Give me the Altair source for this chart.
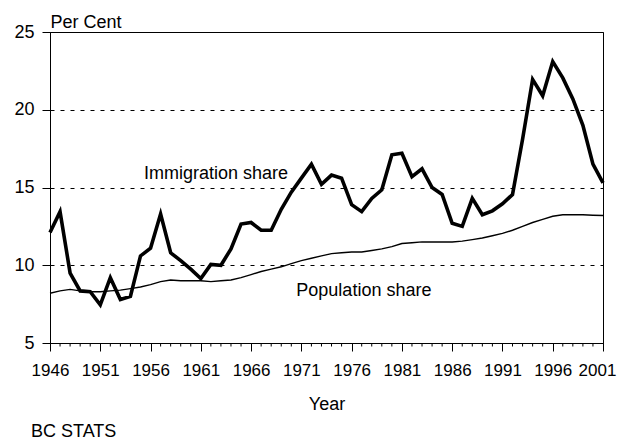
import altair as alt
import pandas as pd

years = list(range(1946, 2002))
immigration = [12.1, 13.45, 9.5, 8.35, 8.3, 7.45, 9.2, 7.8, 8.0, 10.6,
               11.1, 13.3, 10.8, 10.3, 9.75, 9.15, 10.05, 10.0, 11.05, 12.65,
               12.75, 12.25, 12.25, 13.6, 14.7, 15.6, 16.5, 15.2, 15.8, 15.6,
               13.9, 13.45, 14.3, 14.85, 17.1, 17.2, 15.7, 16.2, 15.0, 14.55,
               12.7, 12.5, 14.3, 13.25, 13.5, 13.95, 14.55, 18.1, 21.95, 20.9,
               23.1, 22.05, 20.7, 19.0, 16.5, 15.3]
population = [8.2, 8.35, 8.45, 8.35, 8.3, 8.3, 8.35, 8.4, 8.5, 8.6,
              8.75, 8.95, 9.05, 9.0, 9.0, 9.0, 8.95, 9.0, 9.05, 9.2,
              9.4, 9.6, 9.75, 9.9, 10.1, 10.3, 10.45, 10.6, 10.75, 10.8,
              10.85, 10.85, 10.95, 11.05, 11.2, 11.4, 11.45, 11.5, 11.5, 11.5,
              11.5, 11.55, 11.65, 11.75, 11.9, 12.05, 12.25, 12.5, 12.75, 12.95,
              13.15, 13.25, 13.25, 13.25, 13.22, 13.2]
major_years = [1946, 1951, 1956, 1961, 1966, 1971, 1976, 1981, 1986, 1991, 1996, 2001]
y_ticks = [5, 10, 15, 20, 25]

label_text = ["Immigration share", "Population share"]
label_year = [1955.35, 1970.5]
label_value = [15.56, 8.0]

FONT = "Liberation Sans"
FS = 18

df = pd.DataFrame({"Year": years, "Immigration": immigration, "Population": population})
labels = pd.DataFrame({"text": label_text, "Year": label_year, "v": label_value})
minor = pd.DataFrame({"Year": [y for y in years if y not in major_years]})

x_scale = alt.Scale(domain=[1946, 2001], nice=False, zero=False)
y_scale = alt.Scale(domain=[5, 25], nice=False, zero=False)

x_axis = alt.Axis(
    values=major_years, format="d", tickSize=8, labelFontSize=17,
    labelPadding=11, labelFlush=False, labelOverlap=False,
    labelOffset={"condition": {"test": "datum.value == 2001", "value": -6}, "value": 0},
    grid=False, title="Year", titlePadding=17,
    domainColor="black", tickColor="black",
)
y_axis = alt.Axis(
    values=y_ticks, tickSize=8, labelPadding=8,
    grid=True, gridDash=[4, 6], gridColor="black", gridWidth=1,
    domainColor="black", tickColor="black",
    title="Per Cent", titleAngle=0, titleAlign="left", titleBaseline="alphabetic",
    titleX=0, titleY=-4.5,
)

H = 311
base = alt.Chart(df)
ticks = alt.Chart(minor).mark_rule(color="black", strokeWidth=1).encode(
    x=alt.X("Year:Q", scale=x_scale),
    y=alt.value(H), y2=alt.value(H + 3.5),
)
imm = base.mark_line(color="black", strokeWidth=3.6, strokeJoin="miter").encode(
    x=alt.X("Year:Q", scale=x_scale, axis=x_axis),
    y=alt.Y("Immigration:Q", scale=y_scale, axis=y_axis),
)
pop = base.mark_line(color="black", strokeWidth=1.4).encode(
    x=alt.X("Year:Q", scale=x_scale),
    y=alt.Y("Population:Q", scale=y_scale),
)
txt = alt.Chart(labels).mark_text(align="left", baseline="alphabetic", font=FONT,
                                  fontSize=FS, color="black").encode(
    x=alt.X("Year:Q", scale=x_scale),
    y=alt.Y("v:Q", scale=y_scale),
    text="text:N",
)

chart = alt.layer(pop, imm, txt, ticks).properties(
    width=553, height=H,
    autosize=alt.AutoSizeParams(type="none"),
    padding={"left": 42, "top": 24, "right": 14, "bottom": 100},
    background="white",
    title=alt.TitleParams("BC STATS", orient="bottom", anchor="start", frame="group",
                          dx=-19, offset=10, font=FONT, fontSize=FS, fontWeight="normal",
                          color="black"),
).configure_view(stroke="black", strokeWidth=1).configure_axis(
    labelFont=FONT, labelFontSize=FS, labelColor="black",
    titleFont=FONT, titleFontSize=FS, titleColor="black", titleFontWeight="normal",
)

chart.save("out.html", embed_options={"renderer": "svg", "actions": False})
